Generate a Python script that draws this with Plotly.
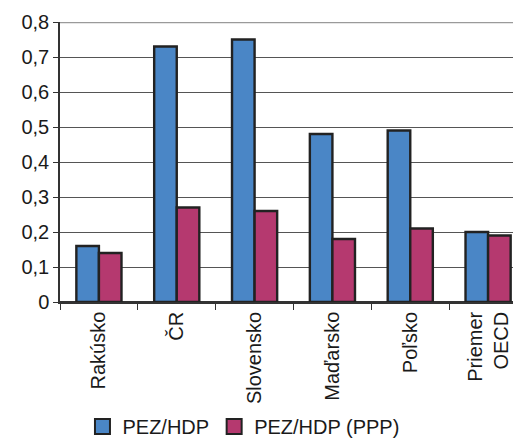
import plotly.graph_objects as go

krajiny = ["Rakúsko", "ČR", "Slovensko", "Maďarsko", "Poľsko", "Priemer<br>OECD"]
pez_hdp = [0.16, 0.73, 0.75, 0.48, 0.49, 0.20]
pez_hdp_ppp = [0.14, 0.27, 0.26, 0.18, 0.21, 0.19]
y_ticks = [0, 0.1, 0.2, 0.3, 0.4, 0.5, 0.6, 0.7, 0.8]
y_labels = ["0", "0,1", "0,2", "0,3", "0,4", "0,5", "0,6", "0,7", "0,8"]

series = [("PEZ/HDP", pez_hdp, "#4a86c6"), ("PEZ/HDP (PPP)", pez_hdp_ppp, "#b5396f")]
outline = dict(color="#222222", width=2.4)

fig = go.Figure()
for name, vals, col in series:
    fig.add_trace(go.Bar(x=krajiny, y=vals, name=name, showlegend=False,
                         marker=dict(color=col, line=outline)))
# legend entries with bigger square symbols
for name, vals, col in series:
    fig.add_trace(go.Scatter(x=[None], y=[None], name=name, mode="markers",
                             marker=dict(symbol="square", size=15, color=col,
                                         line=dict(color="#222222", width=2))))

# top border of the plot area is a lighter gray line
fig.add_shape(type="line", xref="paper", yref="y", x0=0, x1=1, y0=0.8, y1=0.8,
              line=dict(color="#9a9a9a", width=2.5))

fig.update_layout(
    width=513, height=442,
    margin=dict(l=60, r=0, t=22, b=140, autoexpand=False),
    paper_bgcolor="white", plot_bgcolor="white",
    font=dict(family="Liberation Sans, Arial, sans-serif", size=20, color="#1a1a1a"),
    barmode="group", bargap=0.42, bargroupgap=0,
    showlegend=True,
    legend=dict(orientation="h", x=0.405, xanchor="center", y=-0.445, yanchor="middle",
                font=dict(size=20), itemwidth=30, traceorder="normal"),
    xaxis=dict(range=[-0.5, 5.32], tickangle=-90, ticks="outside", ticklen=6,
               tickson="boundaries", tickcolor="#333", showline=True,
               linecolor="#333", linewidth=1.5, showgrid=False, automargin=False,
               tickfont=dict(size=20)),
    yaxis=dict(range=[0, 0.8], tickvals=y_ticks, ticktext=y_labels,
               ticks="outside", ticklen=5, tickcolor="#333", automargin=False,
               showline=True, linecolor="#333", linewidth=1.5,
               showgrid=True, gridcolor="#555555", gridwidth=1,
               zeroline=True, zerolinecolor="#333", zerolinewidth=1.5,
               tickfont=dict(size=20)),
)

# drop the page's default body margin so the figure fills the window
fig.write_html("out.html", config={"displayModeBar": False},
               post_script="document.body.style.margin='0';"
                           "document.body.style.overflow='hidden';")
